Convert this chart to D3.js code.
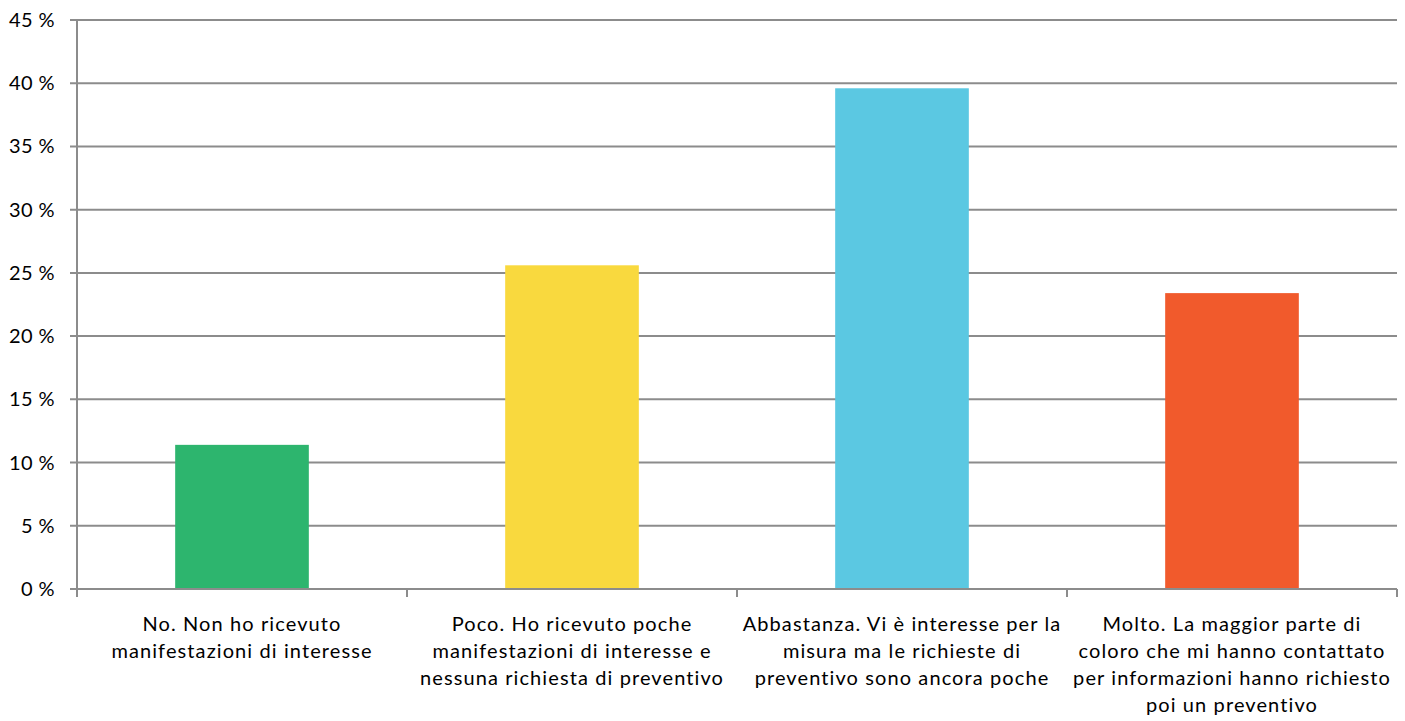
<!DOCTYPE html>
<html>
<head>
<meta charset="utf-8">
<script src="https://cdn.jsdelivr.net/npm/d3@7"></script>
<style>
  body { margin: 0; background: #fff; }
  text { font-family: Lato, "Open Sans", sans-serif; fill: #000; }
</style>
</head>
<body>
<div id="chart"></div>
<script>
  // categories, split the way the original labels wrap
  var categories = ["No", "Poco", "Abbastanza", "Molto"];
  var labelLines = [
    ["No. Non ho ricevuto", "manifestazioni di interesse"],
    ["Poco. Ho ricevuto poche", "manifestazioni di interesse e", "nessuna richiesta di preventivo"],
    ["Abbastanza. Vi è interesse per la", "misura ma le richieste di", "preventivo sono ancora poche"],
    ["Molto. La maggior parte di", "coloro che mi hanno contattato", "per informazioni hanno richiesto", "poi un preventivo"]
  ];
  var values = [11.4, 25.6, 39.6, 23.4];
  var colors = ["#2db56e", "#f9d93e", "#5bc8e2", "#f15a2c"];
  var yTicks = [0, 5, 10, 15, 20, 25, 30, 35, 40, 45];

  var margin = {top: 20, left: 77, right: 8, bottom: 132},
  width  = 1405 - margin.left - margin.right,
  height = 721 - margin.top - margin.bottom;

  var svg = d3.select("#chart")
            .append("svg")
            .attr("width", 1405)
            .attr("height", 721)
            .append("g")
            .attr("transform", "translate(" + margin.left + "," + margin.top + ")");

  var x = d3.scaleBand()
      .domain(categories)
      .range([0, width])
      .padding(0);

  var y = d3.scaleLinear()
      .domain([0, 45])
      .range([height, 0]);

  /* gridlines */
  svg.selectAll(".grid")
      .data(yTicks)
      .enter()
      .append("line")
      .attr("class", "grid")
      .attr("x1", -7)
      .attr("x2", width)
      .attr("y1", function(d) { return y(d); })
      .attr("y2", function(d) { return y(d); })
      .attr("stroke", "#8c8c8c")
      .attr("stroke-width", 2);

  /* y tick labels */
  svg.selectAll(".ylab")
      .data(yTicks)
      .enter()
      .append("text")
      .attr("class", "ylab")
      .attr("x", -22)
      .attr("y", function(d) { return y(d); })
      .attr("dy", "0.35em")
      .attr("text-anchor", "end")
      .style("font-size", "20px")
      .style("letter-spacing", "0.4px")
      .text(function(d) { return d + " %"; });

  /* bars */
  var barW = x.bandwidth() * 0.405;
  svg.selectAll(".bar")
      .data(values)
      .enter()
      .append("rect")
      .attr("class", "bar")
      .attr("x", function(d, i) { return x(categories[i]) + (x.bandwidth() - barW) / 2; })
      .attr("width", barW)
      .attr("y", function(d) { return y(d); })
      .attr("height", function(d) { return y(0) - y(d); })
      .attr("fill", function(d, i) { return colors[i]; });

  /* axes lines */
  svg.append("line")
      .attr("x1", 0).attr("x2", 0)
      .attr("y1", y(45)).attr("y2", height + 8)
      .attr("stroke", "#8c8c8c").attr("stroke-width", 2);
  svg.append("line")
      .attr("x1", 0).attr("x2", width)
      .attr("y1", height).attr("y2", height)
      .attr("stroke", "#8c8c8c").attr("stroke-width", 2);

  /* category boundary ticks */
  var bounds = categories.map(function(c) { return x(c); }).concat([width]);
  svg.selectAll(".xtick")
      .data(bounds)
      .enter()
      .append("line")
      .attr("class", "xtick")
      .attr("x1", function(d) { return d; })
      .attr("x2", function(d) { return d; })
      .attr("y1", height)
      .attr("y2", height + 8)
      .attr("stroke", "#8c8c8c")
      .attr("stroke-width", 2);

  /* category labels */
  svg.selectAll(".xlab")
      .data(labelLines)
      .enter()
      .append("text")
      .attr("class", "xlab")
      .attr("text-anchor", "middle")
      .style("font-size", "20px")
      .style("letter-spacing", "1.1px")
      .attr("transform", function(d, i) {
        return "translate(" + (x(categories[i]) + x.bandwidth() / 2) + "," + (height + 42) + ")";
      })
      .selectAll("tspan")
      .data(function(d) { return d; })
      .enter()
      .append("tspan")
      .attr("x", 0)
      .attr("dy", function(d, i) { return i === 0 ? 0 : 27; })
      .text(function(d) { return d; });
</script>
</body>
</html>
